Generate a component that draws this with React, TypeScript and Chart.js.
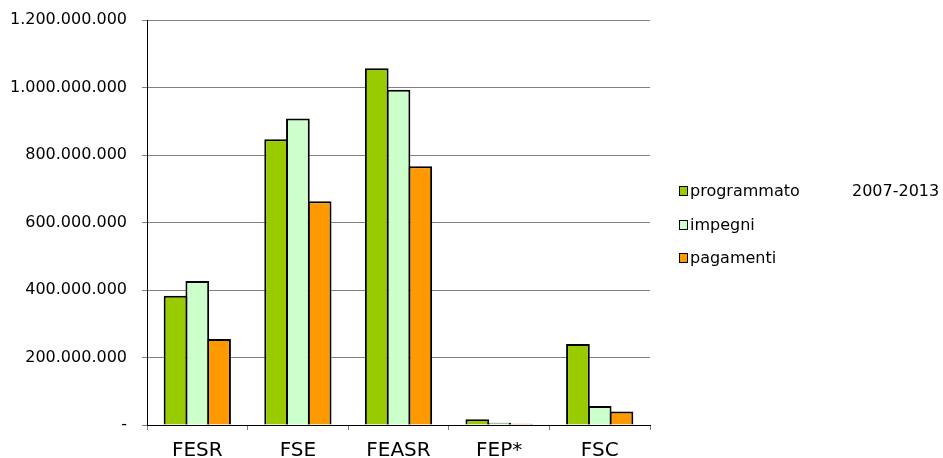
import React, { useEffect, useRef } from 'react';
import { Chart, registerables } from 'chart.js';

Chart.register(...registerables);

// Fondi strutturali: risorse programmate, impegni e pagamenti
const categories = ['FESR', 'FSE', 'FEASR', 'FEP*', 'FSC'];
const programmato = [383000000, 847000000, 1057000000, 17000000, 240000000];
const impegni = [427000000, 908000000, 993000000, 7000000, 56000000];
const pagamenti = [255000000, 663000000, 767000000, 4000000, 40000000];
const seriesLabels = ['programmato', 'impegni', 'pagamenti'];
const seriesColors = ['#99CC00', '#CCFFCC', '#FF9900'];
const period = '2007-2013';
const yMin = 0;
const yMax = 1200000000;
const yStep = 200000000;

const FONT = '"DejaVu Sans", "Liberation Sans", Arial, sans-serif';

const formatAmount = (v: number): string =>
  v === 0 ? '-' : String(Math.round(v)).replace(/\B(?=(\d{3})+(?!\d))/g, '.');

// Legend drawn to the right of the plot, with the period beside the first entry
const sideLegend = {
  id: 'sideLegend',
  afterDraw(chart: any) {
    const ctx = chart.ctx as CanvasRenderingContext2D;
    const x0 = 679.5;
    const firstBaseline = 196;
    const gap = 33.5;
    ctx.save();
    ctx.font = `16px ${FONT}`;
    ctx.textBaseline = 'alphabetic';
    ctx.textAlign = 'left';
    chart.data.datasets.forEach((ds: any, i: number) => {
      const base = Math.round(firstBaseline + i * gap);
      ctx.fillStyle = ds.backgroundColor;
      ctx.fillRect(x0, base - 9.5, 8, 9);
      ctx.strokeStyle = '#000';
      ctx.lineWidth = 1;
      ctx.strokeRect(x0, base - 9.5, 8, 9);
      ctx.fillStyle = '#000';
      ctx.fillText(ds.label, 690, base);
    });
    ctx.fillText(period, 852, firstBaseline);
    ctx.restore();
  },
};

export default function App() {
  const canvasRef = useRef<HTMLCanvasElement | null>(null);

  useEffect(() => {
    if (!canvasRef.current) return;
    const seriesValues = [programmato, impegni, pagamenti];
    const chart = new Chart(canvasRef.current, {
      type: 'bar',
      data: {
        labels: categories,
        datasets: seriesValues.map((values, i) => ({
          label: seriesLabels[i],
          data: values,
          backgroundColor: seriesColors[i],
          borderColor: '#000',
          borderWidth: 2,
          // bars slightly wider than their slot so neighbours share one outline
          categoryPercentage: 0.649,
          barPercentage: 1.09,
        })),
      },
      options: {
        responsive: false,
        animation: false,
        devicePixelRatio: 1,
        layout: { padding: { left: 0, top: 20, right: 293, bottom: 0 } },
        plugins: {
          legend: { display: false },
          tooltip: { enabled: false },
        },
        scales: {
          x: {
            grid: {
              display: true,
              offset: true,
              drawOnChartArea: false,
              drawTicks: true,
              tickLength: 5,
              tickColor: '#808080',
            },
            border: { display: true, color: '#000', width: 1 },
            ticks: {
              color: '#000',
              font: { family: FONT, size: 20 },
              padding: 9,
              maxRotation: 0,
            },
            afterFit: (scale: any) => {
              scale.height = 33;
            },
          },
          y: {
            min: yMin,
            max: yMax,
            grid: {
              color: '#808080',
              lineWidth: 1,
              drawTicks: true,
              tickLength: 5,
              tickColor: '#808080',
            },
            border: { display: true, color: '#000', width: 1 },
            ticks: {
              stepSize: yStep,
              color: '#000',
              font: { family: FONT, size: 16 },
              padding: 15,
              callback: (v: any) => formatAmount(Number(v)),
            },
            afterFit: (scale: any) => {
              scale.width = 147;
              scale.paddingTop = 10;
              scale.paddingBottom = 10;
            },
          },
        },
      },
      plugins: [sideLegend],
    });
    return () => chart.destroy();
  }, []);

  return (
    <div style={{ position: 'fixed', left: 0, top: 0, width: 943, height: 458, background: '#fff' }}>
      <canvas ref={canvasRef} width={943} height={458} style={{ display: 'block' }} />
    </div>
  );
}
